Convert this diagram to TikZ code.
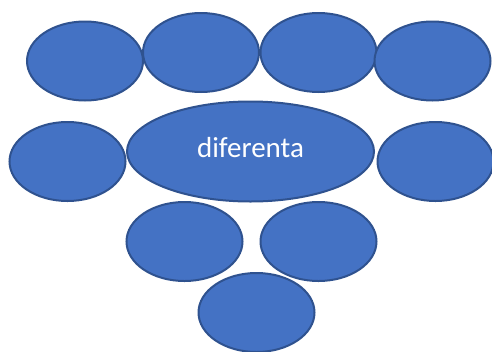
\documentclass[tikz,border=0pt]{standalone}
\usepackage{fontspec}
\setmainfont{Carlito}
\usetikzlibrary{shapes.geometric}
\definecolor{fillblue}{HTML}{4472C4}
\definecolor{edgeblue}{HTML}{2F528F}
\tikzset{
  blob/.style={ellipse, fill=fillblue, draw=edgeblue, line width=2pt, inner sep=0pt,
    minimum width=116pt, minimum height=79pt},
  bigblob/.style={blob, minimum width=247pt, minimum height=100pt},
  label text/.style={text=white, font=\fontsize{29}{33}\selectfont, inner sep=0pt}
}
\begin{document}
\begin{tikzpicture}[x=1pt,y=-1pt]
\useasboundingbox (0,0) rectangle (492,351);
\node[blob] (a1) at (85,61) {};
\node[blob] (a2) at (201,52.5) {};
\node[blob] (a3) at (318.5,52.5) {};
\node[blob] (a4) at (432.5,61) {};
\node[blob] (b1) at (67.5,161.5) {};
\node[bigblob] (c) at (250.5,151.5) {};
\node[label text] (ct) at (250.5,148) {diferenta};
\node[blob] (b2) at (435.5,161.5) {};
\node[blob] (d1) at (184.5,241.5) {};
\node[blob] (d2) at (318.5,241.5) {};
\node[blob] (e) at (256.5,312.5) {};
\end{tikzpicture}
\end{document}
